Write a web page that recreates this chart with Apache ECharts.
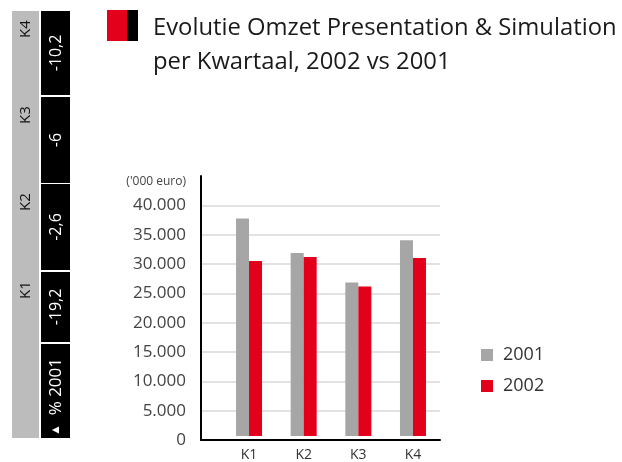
<!DOCTYPE html>
<html>
<head>
<meta charset="utf-8">
<script src="https://cdn.jsdelivr.net/npm/echarts@6/dist/echarts.min.js"></script>
<style>
  html, body { margin: 0; padding: 0; background: #fff; }
  #chart { width: 622px; height: 462px; }
</style>
</head>
<body>
<div id="chart"></div>
<script>
// data
const quarters = ['K1', 'K2', 'K3', 'K4'];
const omzet2001 = [37640, 31670, 26560, 33890];
const omzet2002 = [30310, 30990, 25880, 30820];
const growthPct = [-19.2, -2.6, -6, -10.2];
const yTicks = [0, 5000, 10000, 15000, 20000, 25000, 30000, 35000, 40000];

// side table layout: [top, height] per quarter cell, K1..K4
const cellBox = [[272, 70], [184, 86], [97, 86], [11, 84]];
const headBox = [344, 94];

const font = '"Open Sans", "Noto Sans", sans-serif';
const RED = '#e2001a';
const GREY = '#a6a6a6';

function thousands(v) {
  return String(v).replace(/\B(?=(\d{3})+(?!\d))/g, '.');
}

const chart = echarts.init(document.getElementById('chart'));

// left side table + title blocks
const side = [
  { type: 'rect', shape: { x: 12, y: 11, width: 27, height: 427 }, style: { fill: '#bcbcbc' } },
  { type: 'rect', shape: { x: 41, y: headBox[0], width: 29, height: headBox[1] }, style: { fill: '#000' } },
  {
    type: 'text', x: 56, y: headBox[0] + headBox[1] / 2 + 6, rotation: Math.PI / 2,
    style: {
      text: '{t|▲}  % 2001', fill: '#fff', font: '17px ' + font, align: 'center', verticalAlign: 'middle',
      rich: { t: { fontSize: 12, fill: '#fff' } }
    }
  },
  { type: 'rect', shape: { x: 107, y: 10, width: 20, height: 31 }, style: { fill: RED } },
  { type: 'rect', shape: { x: 127, y: 10, width: 11, height: 31 }, style: { fill: '#000' } }
];
quarters.forEach(function (q, i) {
  const top = cellBox[i][0], h = cellBox[i][1];
  side.push({ type: 'rect', shape: { x: 41, y: top, width: 29, height: h }, style: { fill: '#000' } });
  side.push({
    type: 'text', x: 56, y: top + h / 2, rotation: Math.PI / 2,
    style: { text: String(growthPct[i]).replace('.', ','), fill: '#fff', font: '16px ' + font, align: 'center', verticalAlign: 'middle' }
  });
  side.push({
    type: 'text', x: 26, y: top + 18, rotation: Math.PI / 2,
    style: { text: q, fill: '#111', font: '15px ' + font, align: 'center', verticalAlign: 'middle' }
  });
});

const option = {
  animation: false,
  backgroundColor: '#fff',
  title: {
    text: 'Evolutie Omzet Presentation & Simulation\nper Kwartaal, 2002 vs 2001',
    left: 148,
    top: 6,
    textStyle: { fontFamily: font, fontSize: 23.8, fontWeight: 'normal', color: '#1a1a1a', lineHeight: 34 }
  },
  graphic: side,
  legend: {
    orient: 'vertical',
    left: 476,
    top: 340,
    itemWidth: 12,
    itemHeight: 12,
    itemGap: 11,
    icon: 'rect',
    data: ['2001', '2002'],
    textStyle: { fontFamily: font, fontSize: 18, color: '#333', lineHeight: 20, padding: [0, 0, 0, 5] }
  },
  grid: [
    { left: 201, top: 176, width: 239, height: 264 },
    { left: 221.7, top: 176, width: 218.6, height: 264 }
  ],
  xAxis: [
    {
      type: 'value', gridIndex: 0, min: 0, max: 1,
      axisLine: { show: true, onZero: false, lineStyle: { color: '#000', width: 2 } },
      axisTick: { show: false }, axisLabel: { show: false }, splitLine: { show: false }
    },
    {
      type: 'category', gridIndex: 1, data: quarters,
      axisLine: { show: false }, axisTick: { show: false },
      axisLabel: { margin: 12, fontFamily: font, fontSize: 14, color: '#333' }
    }
  ],
  yAxis: [
    {
      type: 'value', gridIndex: 0, min: 0, max: 45000, interval: 5000,
      name: "('000 euro)",
      nameLocation: 'end',
      nameGap: -6,
      nameTextStyle: { fontFamily: font, fontSize: 12, color: '#444', align: 'right', verticalAlign: 'middle', padding: [0, 15, 0, 0] },
      axisLine: { show: true, lineStyle: { color: '#000', width: 2 } },
      axisTick: { show: false },
      axisLabel: {
        margin: 15, fontFamily: font, fontSize: 17, color: '#444',
        formatter: function (v) { return yTicks.indexOf(v) >= 0 ? thousands(v) : ''; }
      },
      splitLine: {
        show: true,
        lineStyle: {
          width: 1.5,
          color: ['#d9d9d9', '#d9d9d9', '#d9d9d9', '#d9d9d9', '#d9d9d9', '#d9d9d9', '#d9d9d9', '#d9d9d9', '#d9d9d9', 'rgba(0,0,0,0)']
        }
      }
    },
    {
      type: 'value', gridIndex: 1, min: 0, max: 45000, show: false
    }
  ],
  series: [
    {
      name: '2001', type: 'bar', xAxisIndex: 1, yAxisIndex: 1,
      barWidth: 13, barGap: '0%', itemStyle: { color: GREY }, data: omzet2001
    },
    {
      name: '2002', type: 'bar', xAxisIndex: 1, yAxisIndex: 1,
      barWidth: 13, barGap: '0%', itemStyle: { color: RED }, data: omzet2002
    }
  ]
};

chart.setOption(option);
</script>
</body>
</html>
